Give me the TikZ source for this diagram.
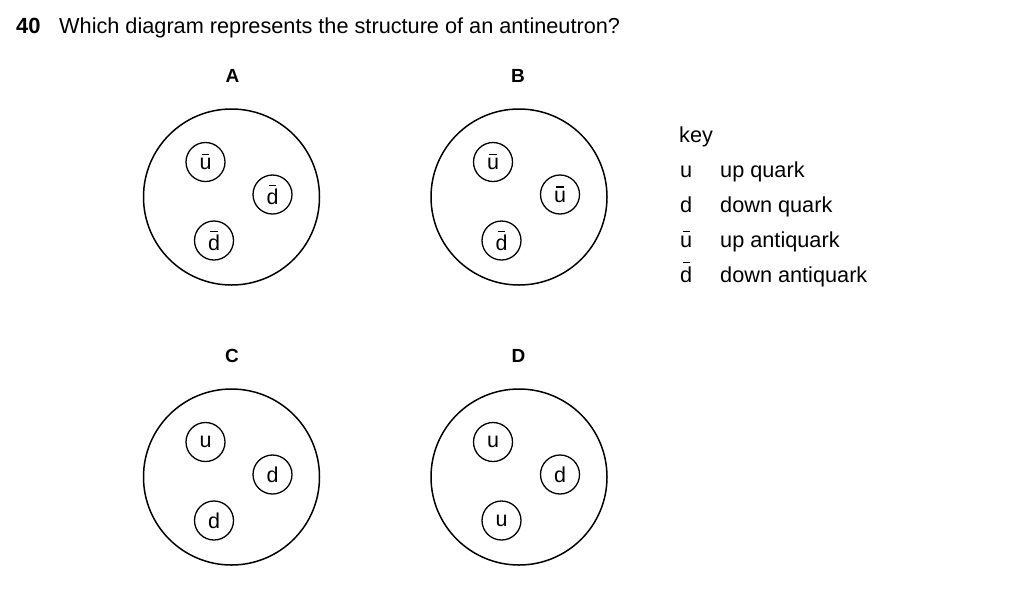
\documentclass[tikz,border=0pt]{standalone}
\usepackage{fontspec}
\usetikzlibrary{calc}
\setmainfont{Liberation Sans}
\newcommand{\ob}[2][3.4pt]{\leavevmode\setbox0\hbox{#2}\vbox{\offinterlineskip\hbox to \wd0{\hss\vrule width 0.6\wd0 height 1.3pt depth 0pt\hss}\kern#1\box0}}
\tikzset{
  txt/.style={inner sep=0pt, font=\fontsize{21.7}{26}\selectfont},
  lbl/.style={inner sep=0pt, font=\fontsize{19}{23}\selectfont\bfseries},
  big/.style={circle, draw, line width=1.5pt, minimum size=176pt, inner sep=0pt},
  quark/.style={circle, draw, line width=1.3pt, minimum size=39pt, inner sep=0pt, font=\fontsize{21.5}{26}\selectfont},
}
\begin{document}
\begin{tikzpicture}[x=1pt,y=-1pt]
\useasboundingbox (0,0) rectangle (1024,611);
% title
\node[txt, anchor=base west, font=\fontsize{22}{26}\selectfont\bfseries] (num) at (16,33) {40};
\node[txt, anchor=base west] (title) at (59,33) {Which diagram represents the structure of an antineutron?};
% labels
\node[lbl] (lA) at (232.5,75.5) {A};
\node[lbl] (lB) at (518,75.5) {B};
\node[lbl] (lC) at (232,356) {C};
\node[lbl] (lD) at (518.5,356) {D};
% big circles
\node[big] (A) at (231.5,197) {};
\node[big] (B) at (519,197) {};
\node[big] (C) at (231.5,477) {};
\node[big] (D) at (519,477) {};
% quarks A
\node[quark] (A1) at ($(A)+(-26,-35)$) {\ob{u}};
\node[quark] (A2) at ($(A)+(41,-2.5)$) {\ob[2.8pt]{d}};
\node[quark] (A3) at ($(A)+(-17.5,43.5)$) {\ob[2.8pt]{d}};
% quarks B
\node[quark] (B1) at ($(B)+(-26,-35)$) {\ob{u}};
\node[quark] (B2) at ($(B)+(41,-2.5)$) {\ob{u}};
\node[quark] (B3) at ($(B)+(-17.5,43.5)$) {\ob[2.8pt]{d}};
% quarks C
\node[quark] (C1) at ($(C)+(-26,-35)$) {u};
\node[quark] (C2) at ($(C)+(41,-2.5)$) {d};
\node[quark] (C3) at ($(C)+(-17.5,43.5)$) {d};
% quarks D
\node[quark] (D1) at ($(D)+(-26,-35)$) {u};
\node[quark] (D2) at ($(D)+(41,-2.5)$) {d};
\node[quark] (D3) at ($(D)+(-17.5,43.5)$) {u};
% key
\node[txt, anchor=base west] (key) at (679,142) {key};
\node[txt, anchor=base west] (k1s) at (680,177) {u};
\node[txt, anchor=base west] (k1t) at (720,177) {up quark};
\node[txt, anchor=base west] (k2s) at (680,212) {d};
\node[txt, anchor=base west] (k2t) at (720,212) {down quark};
\node[txt, anchor=base west] (k3s) at (680,247) {\ob{u}};
\node[txt, anchor=base west] (k3t) at (720,247) {up antiquark};
\node[txt, anchor=base west] (k4s) at (680,282) {\ob[2.8pt]{d}};
\node[txt, anchor=base west] (k4t) at (720,282) {down antiquark};
\end{tikzpicture}
\end{document}
